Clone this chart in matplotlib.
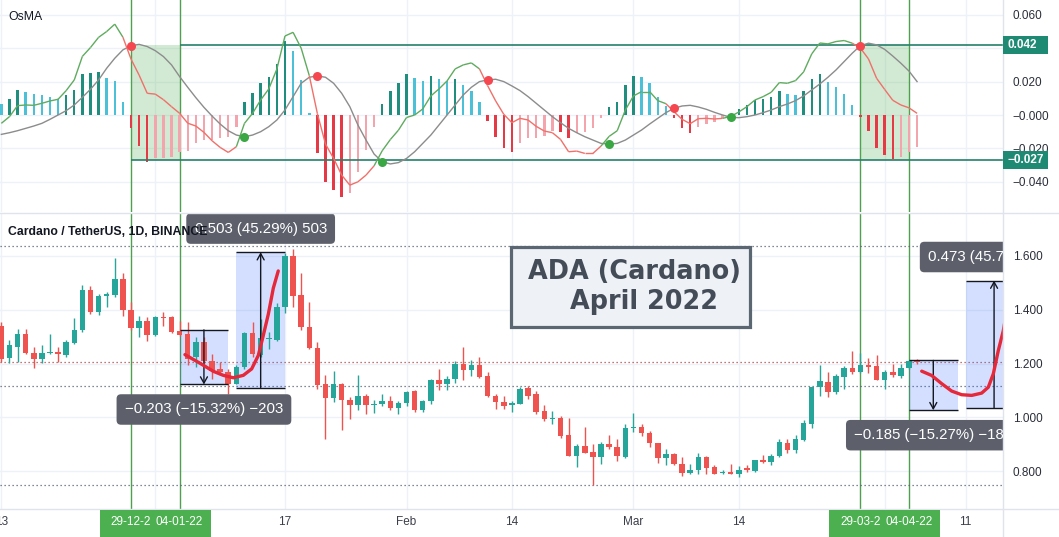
import matplotlib
matplotlib.use("Agg")
import numpy as np
import pandas as pd
import matplotlib.pyplot as plt
import matplotlib.dates as mdates
from matplotlib.collections import LineCollection
from matplotlib.patches import Rectangle
from matplotlib.transforms import blended_transform_factory

plt.rcParams['font.family'] = ['Liberation Sans', 'DejaVu Sans']

# ---- data (daily candles, ADA/USDT) ----
dates = pd.date_range("2021-12-13", "2022-04-05", freq="D")

opens = [1.341, 1.221, 1.263, 1.310, 1.240, 1.217, 1.238, 1.244, 1.233, 1.275, 1.325, 1.473, 1.390, 1.451, 1.454, 1.514, 1.399, 1.332, 1.359,
         1.306, 1.374, 1.374, 1.322, 1.310, 1.226, 1.279, 1.209, 1.180, 1.168, 1.125, 1.186, 1.312, 1.233, 1.290, 1.288, 1.409, 1.600, 1.456, 1.337,
         1.258, 1.122, 1.073, 1.125, 1.065, 1.044, 1.078, 1.044, 1.051, 1.060, 1.036,
         1.053, 1.098, 1.026, 1.060, 1.140, 1.122, 1.143, 1.199, 1.176, 1.196, 1.152, 1.081, 1.057, 1.044, 1.051, 1.110, 1.085, 1.023, 0.995, 0.999,
         0.933, 0.856, 0.893, 0.872, 0.853, 0.900, 0.888, 0.853,
         0.962, 0.964, 0.940, 0.905, 0.847, 0.865, 0.826, 0.794, 0.804, 0.853, 0.814, 0.792, 0.795, 0.789, 0.810, 0.801, 0.841, 0.835, 0.856, 0.905,
         0.880, 0.917, 0.974, 1.112, 1.131, 1.094, 1.149, 1.184, 1.168, 1.193, 1.189,
         1.140, 1.168, 1.152, 1.184, 1.211]
highs = [1.353, 1.288, 1.328, 1.328, 1.260, 1.267, 1.310, 1.260, 1.288, 1.369, 1.493, 1.489, 1.460, 1.464, 1.591, 1.536, 1.427, 1.378, 1.374,
         1.378, 1.390, 1.378, 1.359, 1.353, 1.298, 1.298, 1.236, 1.205, 1.180, 1.196, 1.316, 1.353, 1.365, 1.316, 1.423, 1.609, 1.625, 1.535, 1.427,
         1.279, 1.156, 1.172, 1.127, 1.075, 1.159, 1.088, 1.065, 1.085, 1.078, 1.060,
         1.098, 1.102, 1.065, 1.141, 1.180, 1.152, 1.209, 1.263, 1.214, 1.226, 1.168, 1.088, 1.078, 1.062, 1.112, 1.115, 1.098, 1.044, 1.023, 1.004,
         0.999, 0.900, 0.964, 0.900, 0.909, 0.933, 0.921, 0.974,
         1.016, 0.977, 0.949, 0.906, 0.884, 0.868, 0.853, 0.826, 0.868, 0.856, 0.822, 0.804, 0.826, 0.818, 0.822, 0.842, 0.859, 0.865, 0.921, 0.921,
         0.933, 0.991, 1.112, 1.193, 1.168, 1.162, 1.189, 1.248, 1.238, 1.221, 1.230,
         1.177, 1.199, 1.199, 1.214, 1.217]
lows = [1.205, 1.201, 1.205, 1.236, 1.184, 1.201, 1.236, 1.205, 1.226, 1.273, 1.316, 1.384, 1.381, 1.411, 1.448, 1.378, 1.325, 1.298, 1.285,
        1.304, 1.341, 1.312, 1.304, 1.196, 1.186, 1.201, 1.143, 1.156, 1.088, 1.122, 1.180, 1.223, 1.225, 1.254, 1.283, 1.386, 1.411, 1.325, 1.254,
        1.106, 0.921, 1.057, 0.954, 0.995, 1.026, 1.011, 1.016, 1.041, 1.028, 1.011,
        1.041, 1.020, 1.020, 1.051, 1.102, 1.102, 1.127, 1.137, 1.152, 1.147, 1.075, 1.032, 1.032, 1.020, 1.048, 1.069, 1.011, 0.986, 0.977, 0.925,
        0.856, 0.816, 0.866, 0.748, 0.828, 0.884, 0.838, 0.847,
        0.946, 0.930, 0.888, 0.831, 0.822, 0.822, 0.781, 0.791, 0.789, 0.791, 0.789, 0.791, 0.788, 0.779, 0.798, 0.798, 0.831, 0.822, 0.851, 0.868,
        0.868, 0.912, 0.962, 1.078, 1.075, 1.088, 1.106, 1.162, 1.164, 1.164, 1.137,
        1.106, 1.149, 1.147, 1.180, 1.199]
closes = [1.217, 1.267, 1.310, 1.238, 1.217, 1.240, 1.244, 1.236, 1.281, 1.325, 1.473, 1.390, 1.452, 1.458, 1.514, 1.399, 1.332, 1.359, 1.306,
          1.374, 1.369, 1.316, 1.306, 1.217, 1.281, 1.209, 1.174, 1.168, 1.125, 1.186, 1.312, 1.236, 1.295, 1.293, 1.411, 1.600, 1.452, 1.335, 1.258,
          1.119, 1.073, 1.125, 1.065, 1.044, 1.078, 1.044, 1.051, 1.060, 1.036, 1.053,
          1.094, 1.026, 1.060, 1.139, 1.122, 1.143, 1.199, 1.176, 1.196, 1.149, 1.081, 1.057, 1.041, 1.053, 1.106, 1.081, 1.020, 0.995, 0.998, 0.930,
          0.856, 0.893, 0.868, 0.853, 0.900, 0.888, 0.856, 0.962,
          0.964, 0.940, 0.905, 0.847, 0.865, 0.826, 0.794, 0.804, 0.853, 0.810, 0.791, 0.795, 0.789, 0.804, 0.804, 0.841, 0.835, 0.856, 0.909, 0.880,
          0.921, 0.979, 1.112, 1.135, 1.094, 1.152, 1.184, 1.168, 1.193, 1.186, 1.140,
          1.168, 1.156, 1.184, 1.211, 1.205]

# OsMA panel: histogram, MACD line, signal line
osma_hist = [0.0066, 0.0096, 0.015, 0.014, 0.0124, 0.012, 0.011, 0.0094, 0.012, 0.015, 0.0245, 0.025, 0.0255, 0.022, 0.0204, 0.0076, -0.008, -0.0184, -0.028,
             -0.026, -0.0258, -0.025, -0.022, -0.0215, -0.017, -0.015, -0.0148, -0.014, -0.013, -0.007, 0.008, 0.013, 0.019, 0.0226, 0.0305, 0.0443, 0.0385, 0.021, 0.001,
             -0.0226, -0.040, -0.045, -0.049, -0.047, -0.034, -0.021, -0.007, 0.0066, 0.0146, 0.0194,
             0.0245, 0.022, 0.0206, 0.0234, 0.0216, 0.0204, 0.0216, 0.018, 0.0146, 0.0076, -0.0034, -0.013, -0.0196, -0.022, -0.0166, -0.014, -0.0138, -0.0126, -0.0096, -0.010,
             -0.014, -0.011, -0.010, -0.008, -0.0016, 0.0046, 0.0076, 0.018,
             0.0234, 0.023, 0.0194, 0.0106, 0.0054, -0.002, -0.008, -0.011, -0.007, -0.0054, -0.004, -0.002, 0.0005, 0.0034, 0.006, 0.009, 0.0096, 0.0106, 0.0144, 0.0124,
             0.012, 0.0144, 0.0216, 0.0245, 0.020, 0.017, 0.0126, 0.006, -0.0014, -0.0094, -0.020,
             -0.024, -0.0265, -0.025, -0.022, -0.019]
signal = [-0.0116, -0.0106, -0.0094, -0.008, -0.0066, -0.005, -0.0026, 0.0, 0.0026, 0.006, 0.0106, 0.0154, 0.021, 0.028, 0.034, 0.039, 0.0415, 0.0423, 0.041,
          0.0385, 0.035, 0.030, 0.023, 0.0166, 0.0104, 0.0046, -0.0006, -0.0054, -0.0094, -0.012, -0.013, -0.012, -0.010, -0.007, -0.003, 0.003, 0.011, 0.019, 0.0226,
          0.0234, 0.0226, 0.019, 0.013, 0.005, -0.006, -0.015, -0.0234, -0.028, -0.0293, -0.0285,
          -0.026, -0.022, -0.017, -0.012, -0.006, 0.0, 0.006, 0.012, 0.0166, 0.020, 0.021, 0.0214, 0.020, 0.0174, 0.0146, 0.011, 0.007, 0.003, -0.001, -0.0046,
          -0.008, -0.0106, -0.013, -0.015, -0.017, -0.0174, -0.017, -0.015,
          -0.012, -0.009, -0.0054, -0.002, 0.0014, 0.004, 0.0054, 0.0058, 0.0048, 0.0034, 0.0016, 0.0, -0.0014, -0.0016, -0.001, 0.0, 0.0014, 0.003, 0.005, 0.0066,
          0.0086, 0.0114, 0.015, 0.0186, 0.0226, 0.027, 0.032, 0.037, 0.0415, 0.043, 0.042,
          0.0393, 0.0353, 0.031, 0.0263, 0.020]
macd = [-0.0050, -0.0010, 0.0056, 0.0060, 0.0058, 0.0070, 0.0084, 0.0094, 0.0146, 0.0210, 0.0351, 0.0404, 0.0465, 0.0500, 0.0544, 0.0466, 0.0335, 0.0239, 0.0130,
        0.0125, 0.0092, 0.0050, 0.0010, -0.0049, -0.0066, -0.0104, -0.0154, -0.0194, -0.0224, -0.0190, -0.0050, 0.0010, 0.0090, 0.0156, 0.0275, 0.0473, 0.0495, 0.0400, 0.0236,
        0.0008, -0.0174, -0.0260, -0.0360, -0.0420, -0.0400, -0.0360, -0.0304, -0.0214, -0.0147, -0.0091,
        -0.0015, 0.0000, 0.0036, 0.0114, 0.0156, 0.0204, 0.0276, 0.0300, 0.0312, 0.0276, 0.0176, 0.0084, 0.0004, -0.0046, -0.0020, -0.0030, -0.0068, -0.0096, -0.0106, -0.0146,
        -0.0220, -0.0216, -0.0230, -0.0230, -0.0186, -0.0128, -0.0094, 0.0030,
        0.0114, 0.0140, 0.0140, 0.0086, 0.0068, 0.0020, -0.0026, -0.0052, -0.0022, -0.0020, -0.0024, -0.0020, -0.0009, 0.0018, 0.0050, 0.0090, 0.0110, 0.0136, 0.0194, 0.0190,
        0.0206, 0.0258, 0.0366, 0.0431, 0.0426, 0.0440, 0.0446, 0.0430, 0.0401, 0.0336, 0.0220,
        0.0153, 0.0088, 0.0060, 0.0043, 0.0010]

assert len(opens) == len(highs) == len(lows) == len(closes) == len(dates)
assert len(osma_hist) == len(signal) == len(macd) == len(dates)

# drawings on the chart
marker_dates = pd.to_datetime(["2021-12-29", "2022-01-04", "2022-03-29", "2022-04-04"])
osma_levels = [0.042, -0.027]
price_levels = [1.637, 1.115, 0.747]

# price range tools: (start, end, from price, to price, label)
ranges = [
    ("2022-01-04", "2022-01-10", 1.325, 1.122, "\u22120.203 (\u221215.32%) \u2212203"),
    ("2022-01-11", "2022-01-17", 1.1106, 1.6136, "0.503 (45.29%) 503"),
    ("2022-04-04", "2022-04-10", 1.2115, 1.0265, "\u22120.185 (\u221215.27%) \u2212185"),
    ("2022-04-11", "2022-04-18", 1.035, 1.508, "0.473 (45.70%) 473"),
]

# hand drawn red paths (days after 2021-12-29, price)
path1_days = [6.66, 8.51, 10.16, 11.39, 12.63, 13.86, 14.89, 15.71, 16.29, 16.95, 17.56, 18.17]
path1_price = [1.233, 1.201, 1.171, 1.156, 1.147, 1.156, 1.180, 1.230, 1.300, 1.384, 1.480, 1.544]
path2_days = [97.57, 98.80, 100.04, 101.27, 102.50, 103.74, 104.97, 105.79, 106.41, 107.02, 107.64, 108.2]
path2_price = [1.1715, 1.1556, 1.125, 1.0975, 1.084, 1.0815, 1.090, 1.112, 1.162, 1.248, 1.322, 1.420]

tick_dates = pd.to_datetime(["2021-12-13", "2022-01-01", "2022-01-17", "2022-02-01", "2022-02-14",
                             "2022-03-01", "2022-03-14", "2022-04-01", "2022-04-11"])
tick_labels = ["13", "", "17", "Feb", "14", "Mar", "14", "", "11"]

# ---- layout ----
W, H = 1059, 537
PX_DAY = 8.104
x = mdates.date2num(dates)
x_ref = mdates.date2num(pd.Timestamp("2021-12-29"))


def fx(px):
    return px / W


def fy(py):
    return 1 - py / H


fig = plt.figure(figsize=(W / 100, H / 100), dpi=100)
fig.patch.set_facecolor("white")
ax1 = fig.add_axes([0, fy(212), fx(1003), 212 / H])
ax2 = fig.add_axes([0, fy(509), fx(1003), (509 - 214) / H])

for ax in (ax1, ax2):
    ax.set_xlim(x_ref - 131 / PX_DAY, x_ref + 872 / PX_DAY)
    ax.set_xticks(mdates.date2num(tick_dates))
    for s in ax.spines.values():
        s.set_visible(False)
    ax.grid(True, color="#eef1f7", lw=1)
    ax.set_axisbelow(True)
    ax.yaxis.tick_right()
    ax.tick_params(length=0, labelsize=8.5, labelcolor="#2a2e39")
    ax.tick_params(axis="y", pad=7)
    for d in marker_dates:
        ax.axvline(mdates.date2num(d), color="#4f9f4f", lw=1, zorder=2)

ax1.tick_params(axis="x", labelbottom=False)
ax2.set_xticklabels(tick_labels)
ax2.tick_params(axis="x", pad=5, labelcolor="#3b3f4a")

# the 0.040 label sits under the 0.042 tag, so it stays blank
ax1.set_ylim(-0.05808, 0.06886)
ax1.set_yticks([-0.04, -0.02, 0, 0.02, 0.04, 0.06])
ax1.set_yticklabels(["\u22120.040", "\u22120.020", "\u22120.000", "0.020", "", "0.060"])
ax2.set_ylim(0.6593, 1.7556)
ax2.set_yticks([0.8, 1.0, 1.2, 1.4, 1.6])
ax2.set_yticklabels(["0.800", "1.000", "1.200", "1.400", "1.600"])

# ---- OsMA panel ----
hist = np.array(osma_hist)
prev = np.concatenate([[hist[0]], hist[:-1]])
rising = hist > prev
bar_colors = np.where(hist >= 0,
                      np.where(rising, "#1f8e7e", "#4cc0d6"),
                      np.where(rising, "#f4a4ad", "#e53945"))
ax1.bar(x, hist, width=0.3, color=bar_colors, lw=0, zorder=3)

d0, d1 = mdates.date2num(marker_dates[0]), mdates.date2num(marker_dates[1])
d2, d3 = mdates.date2num(marker_dates[2]), mdates.date2num(marker_dates[3])
for a, b in ((d0, d1), (d2, d3)):
    ax1.add_patch(Rectangle((a, osma_levels[1]), b - a, osma_levels[0] - osma_levels[1],
                            facecolor="#4caf50", alpha=0.25, lw=0, zorder=2))
ax1.hlines(osma_levels[0], d1, ax1.get_xlim()[1], color="#24806c", lw=1.2, zorder=4)
ax1.hlines(osma_levels[1], d0, ax1.get_xlim()[1], color="#24806c", lw=1.2, zorder=4)

sig = np.array(signal)
mac = np.array(macd)
ax1.plot(x, sig, color="#8c8c8c", lw=1, zorder=5)
segs = [[(x[i], mac[i]), (x[i + 1], mac[i + 1])] for i in range(len(x) - 1)]
seg_colors = ["#5fab5f" if hist[i + 1] >= 0 else "#f0706a" for i in range(len(x) - 1)]
ax1.add_collection(LineCollection(segs, colors=seg_colors, lw=1, zorder=5))

cross = np.where(np.sign(hist[1:]) != np.sign(hist[:-1]))[0] + 1
for i in cross:
    c = "#3aa745" if hist[i] > 0 else "#f5474f"
    ax1.plot(x[i], sig[i], "o", ms=6.5, color=c, mec="none", zorder=6)

# ---- price panel ----
o, h, l, c = map(np.array, (opens, highs, lows, closes))
up = c >= o
ccol = np.where(up, "#26a69a", "#ef5350")
ax2.vlines(x, l, h, colors=ccol, lw=1, zorder=4)
ax2.bar(x, np.maximum(np.abs(c - o), 0.003), bottom=np.minimum(o, c), width=0.68,
        color=ccol, lw=0, zorder=5)

for lv in price_levels:
    ax2.axhline(lv, color="#5d6075", lw=0.9, ls=(0, (1, 2.2)), zorder=3)
ax2.axhline(c[-1], color="#b04a4a", lw=0.9, ls=(0, (1, 2.2)), zorder=3)

for start, end, p_from, p_to, text in ranges:
    a = mdates.date2num(pd.Timestamp(start))
    b = mdates.date2num(pd.Timestamp(end))
    lo, hi = min(p_from, p_to), max(p_from, p_to)
    ax2.add_patch(Rectangle((a, lo), b - a, hi - lo, facecolor="#2962ff", alpha=0.2, lw=0, zorder=3))
    ax2.hlines([lo, hi], a, b, color="#131722", lw=1, zorder=6)
    mid = (a + b) / 2
    ax2.annotate("", xy=(mid, p_to), xytext=(mid, p_from),
                 arrowprops=dict(arrowstyle="->,head_width=0.25,head_length=0.45",
                                 color="#131722", lw=1, shrinkA=0, shrinkB=0), zorder=6)
    going_up = p_to > p_from
    off = 17 if going_up else -18
    ax2.annotate(text, xy=(mid, hi if going_up else lo), xytext=(0, off),
                 textcoords="offset points", ha="center", va="center",
                 fontsize=10.8, color="white", zorder=8, annotation_clip=False, clip_on=True,
                 bbox=dict(boxstyle="round,pad=0.55,rounding_size=0.3", fc="#5d606b", ec="none"))

p1x = x_ref + np.array(path1_days)
p2x = x_ref + np.array(path2_days)
ax2.plot(p1x, path1_price, color="#e5283a", lw=2.4, solid_capstyle="round", zorder=7)
ax2.plot(p2x, path2_price, color="#e5283a", lw=2.4, solid_capstyle="round", zorder=7)

# ---- figure level decorations ----
for yy in (213, 509):
    fig.add_artist(plt.Line2D([0, 1], [fy(yy), fy(yy)], color="#e0e3eb", lw=1))
fig.add_artist(plt.Line2D([fx(1003), fx(1003)], [0, 1], color="#e0e3eb", lw=1))

fig.text(fx(8), fy(17), "OsMA", fontsize=8.8, color="#131722", va="center")
fig.text(fx(8), fy(232), "Cardano / TetherUS, 1D, BINANCE", fontsize=8.8, fontweight="bold",
         color="#131722", va="center", zorder=10)

# value tags on the OsMA scale
tr = blended_transform_factory(fig.transFigure, ax1.transData)
for lv in osma_levels:
    fig.add_artist(Rectangle((fx(1003), lv - 0.0052), fx(45), 0.0104, transform=tr,
                             facecolor="#1f8a74", lw=0, zorder=9))
    txt = ("%.3f" % lv).replace("-", "\u2212")
    fig.text(fx(1008), lv, txt, transform=tr, fontsize=8.5, fontweight="bold",
             color="white", va="center", zorder=10)

# date tags on the time scale
for a, b in ((0, 1), (2, 3)):
    xa = 131 + (mdates.date2num(marker_dates[a]) - x_ref) * PX_DAY
    xb = 131 + (mdates.date2num(marker_dates[b]) - x_ref) * PX_DAY
    fig.add_artist(Rectangle((fx(xa - 31), 0), fx(xb - xa + 62), fy(510), facecolor="#4caf50",
                             lw=0, zorder=9))
    fig.text(fx(xa), fy(522), marker_dates[a].strftime("%d-%m-%y")[:7], fontsize=8.5,
             color="white", ha="center", va="center", zorder=10)
    fig.text(fx(xb), fy(522), marker_dates[b].strftime("%d-%m-%y"), fontsize=8.5,
             color="white", ha="center", va="center", zorder=10)

# title note
fig.add_artist(Rectangle((fx(511), fy(327)), fx(750 - 511), (327 - 247) / H, facecolor="#eef1f5",
                         edgecolor="#5b6673", lw=2.3, zorder=9))
fig.text(fx(634), fy(272), "ADA (Cardano)", fontsize=18.4, fontweight="bold",
         family="DejaVu Sans", color="#434c57", ha="center", va="center", zorder=10)
fig.text(fx(644), fy(302), "April 2022", fontsize=18.4, fontweight="bold",
         family="DejaVu Sans", color="#434c57", ha="center", va="center", zorder=10)

fig.savefig("out.png", dpi=100, facecolor="white")
